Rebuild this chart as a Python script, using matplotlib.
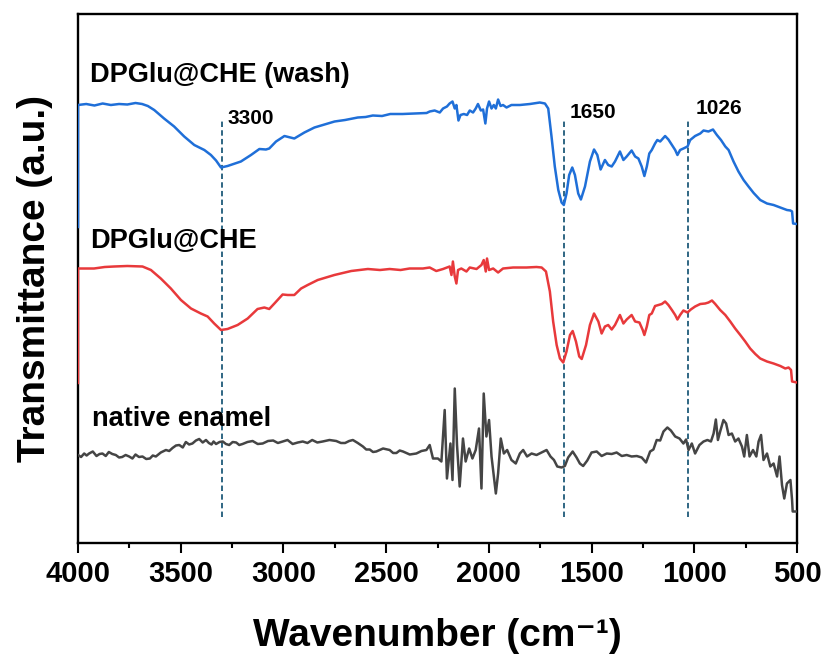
import matplotlib
matplotlib.use("Agg")
import matplotlib.pyplot as plt

plt.rcParams['font.family'] = ['Liberation Sans', 'DejaVu Sans']

# ---- data (wavenumber in cm-1, transmittance in a.u.) ----
wash_wn = [4000, 4000, 3960, 3920, 3880, 3840, 3800, 3760, 3720, 3688, 3660, 3629, 3581, 3532,
           3483, 3434, 3385, 3353, 3328, 3304, 3272, 3207, 3158, 3117, 3085, 3069, 3036, 2995,
           2947, 2898, 2849, 2800, 2751, 2700, 2638, 2600, 2565, 2520, 2480, 2420, 2360, 2303,
           2288, 2264, 2239, 2223, 2204, 2191, 2177, 2166, 2158, 2148, 2138, 2122, 2106, 2093,
           2077, 2064, 2053, 2039, 2028, 2017, 2009, 1999, 1987, 1976, 1966, 1955, 1943, 1931,
           1914, 1890, 1849, 1800, 1752, 1727, 1711, 1695, 1679, 1662, 1646, 1635, 1622, 1609,
           1594, 1581, 1565, 1552, 1532, 1508, 1488, 1472, 1456, 1435, 1419, 1402, 1386, 1362,
           1345, 1329, 1305, 1288, 1272, 1256, 1243, 1231, 1219, 1207, 1191, 1180, 1166, 1142,
           1126, 1109, 1093, 1082, 1069, 1053, 1033, 1020, 996, 971, 955, 931, 909, 890, 870,
           849, 833, 809, 785, 760, 736, 711, 679, 646, 614, 581, 549, 532, 524, 519, 500]
wash_t = [63.2, 87.6, 87.8, 87.5, 87.9, 87.6, 87.8, 87.7, 88.0, 87.8, 87.4, 86.6, 84.9, 83.3,
          81.3, 79.6, 78.6, 77.6, 76.5, 75.1, 75.4, 76.3, 77.6, 78.8, 78.7, 78.9, 80.3, 81.4,
          80.9, 82.1, 83.1, 83.7, 84.3, 84.6, 85.1, 85.2, 85.5, 85.4, 85.8, 85.8, 85.9, 86.0,
          86.3, 86.5, 86.1, 86.9, 87.3, 87.9, 88.3, 86.9, 87.6, 84.5, 85.6, 85.8, 85.6, 86.5,
          86.1, 86.9, 87.8, 86.5, 86.7, 83.9, 86.9, 88.3, 86.9, 87.6, 86.9, 88.7, 87.4, 87.6,
          87.1, 87.6, 87.6, 87.8, 88.1, 87.9, 86.9, 81.3, 75.3, 70.6, 68.1, 67.6, 69.9, 73.6,
          75.1, 73.6, 69.9, 68.7, 71.3, 76.3, 78.7, 77.6, 74.7, 76.6, 75.6, 75.3, 76.3, 78.3,
          76.6, 77.3, 78.5, 77.3, 76.9, 75.3, 73.4, 75.3, 77.9, 78.6, 79.9, 80.6, 80.3, 81.4,
          80.7, 79.6, 78.6, 77.6, 78.6, 78.9, 79.3, 80.6, 81.4, 81.9, 82.5, 82.3, 82.7, 81.6, 80.6,
          79.3, 78.6, 76.3, 74.3, 72.6, 71.3, 70.0, 68.6, 67.9, 67.6, 67.1, 66.6, 66.5, 66.3, 63.9, 63.8]

che_wn = [4000, 4000, 3922, 3870, 3824, 3760, 3686, 3645, 3597, 3548, 3499, 3450, 3402, 3369,
          3337, 3304, 3272, 3223, 3174, 3126, 3093, 3069, 3044, 3004, 2979, 2947, 2914, 2882,
          2833, 2752, 2670, 2589, 2530, 2483, 2430, 2386, 2321, 2288, 2256, 2223, 2191, 2182,
          2175, 2166, 2158, 2150, 2134, 2109, 2093, 2060, 2036, 2025, 2015, 2009, 1999, 1979,
          1955, 1931, 1882, 1817, 1768, 1743, 1722, 1703, 1687, 1670, 1654, 1638, 1622, 1605,
          1592, 1576, 1560, 1548, 1527, 1508, 1488, 1467, 1451, 1435, 1419, 1402, 1386, 1362,
          1345, 1329, 1305, 1288, 1267, 1251, 1243, 1231, 1219, 1207, 1191, 1175, 1158, 1142,
          1126, 1109, 1093, 1082, 1069, 1053, 1033, 1017, 996, 971, 947, 931, 914, 898, 874,
          849, 825, 801, 776, 752, 728, 703, 679, 646, 614, 581, 557, 541, 529, 524, 500]
che_t = [32.0, 54.9, 54.9, 55.2, 55.3, 55.4, 55.3, 54.6, 52.9, 50.9, 48.6, 46.9, 45.9, 45.3,
         43.9, 42.6, 42.8, 43.6, 44.9, 46.8, 47.1, 46.8, 47.9, 49.7, 49.6, 49.6, 50.9, 51.6,
         52.6, 53.6, 54.4, 54.8, 54.6, 54.8, 54.6, 54.9, 54.9, 55.1, 54.4, 54.8, 55.3, 53.6,
         56.3, 53.3, 51.9, 54.6, 54.9, 54.3, 55.1, 54.8, 55.6, 56.6, 54.3, 56.9, 54.6, 54.9,
         54.1, 54.9, 55.1, 55.1, 55.2, 55.1, 54.3, 50.3, 44.3, 39.6, 36.9, 36.1, 38.3, 41.6,
         42.4, 40.3, 37.3, 36.8, 39.6, 43.6, 45.9, 44.3, 41.9, 43.3, 43.6, 42.7, 43.6, 45.6,
         43.9, 44.7, 45.6, 44.3, 44.1, 42.6, 41.6, 43.3, 45.6, 45.9, 47.4, 47.6, 47.8, 48.3,
         47.6, 46.6, 45.6, 44.7, 45.6, 46.5, 46.1, 46.7, 47.3, 47.8, 47.9, 48.1, 48.5, 47.8, 46.6,
         45.6, 44.3, 42.9, 41.6, 40.3, 38.9, 37.8, 36.9, 36.3, 35.9, 35.4, 34.9, 35.1, 34.6, 32.3, 32.1]

enamel_wn = [4000, 3985, 3970, 3958, 3946, 3928, 3910, 3895, 3881, 3865, 3850, 3833, 3816, 3800,
             3785, 3768, 3751, 3735, 3720, 3703, 3686, 3668, 3650, 3636, 3621, 3597, 3572, 3556,
             3540, 3523, 3507, 3490, 3475, 3459, 3443, 3426, 3410, 3393, 3377, 3363, 3350, 3340,
             3328, 3311, 3295, 3280, 3264, 3247, 3230, 3215, 3199, 3175, 3150, 3125, 3101, 3075,
             3050, 3027, 3004, 2980, 2955, 2930, 2906, 2883, 2860, 2835, 2809, 2776, 2743, 2720,
             2700, 2680, 2662, 2638, 2613, 2597, 2580, 2564, 2548, 2515, 2483, 2466, 2450, 2434,
             2418, 2385, 2353, 2328, 2304, 2288, 2272, 2248, 2231, 2215, 2204, 2187, 2177, 2166,
             2155, 2142, 2126, 2113, 2096, 2080, 2064, 2048, 2036, 2025, 2012, 1999, 1987, 1966,
             1955, 1942, 1927, 1911, 1890, 1869, 1849, 1833, 1814, 1792, 1768, 1743, 1719, 1700,
             1683, 1667, 1646, 1630, 1614, 1592, 1573, 1557, 1541, 1521, 1500, 1475, 1451, 1426,
             1402, 1378, 1353, 1329, 1305, 1280, 1256, 1235, 1215, 1199, 1183, 1166, 1150, 1131,
             1114, 1093, 1072, 1053, 1040, 1028, 1012, 996, 975, 955, 936, 919, 906, 895, 885, 874,
             858, 845, 833, 817, 801, 785, 768, 757, 744, 731, 714, 698, 687, 675, 663, 646, 630,
             614, 597, 585, 573, 562, 549, 532, 524, 521, 500]
enamel_t = [17.6, 17.2, 17.9, 17.5, 17.9, 18.3, 17.4, 17.8, 17.9, 17.4, 18.2, 17.8, 17.6, 17.1,
            17.2, 17.6, 17.3, 16.9, 17.7, 17.2, 17.3, 16.8, 16.9, 17.5, 17.3, 18.1, 18.6, 18.4,
            19.0, 19.5, 19.6, 19.1, 20.2, 19.7, 19.9, 20.5, 20.8, 20.1, 20.6, 20.0, 19.7, 20.3,
            19.8, 20.2, 20.3, 19.8, 19.6, 20.2, 20.1, 19.6, 19.8, 20.2, 20.4, 19.8, 19.9, 20.4,
            20.5, 20.0, 20.3, 20.6, 19.8, 20.1, 20.3, 20.0, 20.6, 20.1, 20.3, 20.6, 20.4, 20.0,
            20.0, 20.4, 20.6, 20.0, 19.3, 18.7, 18.7, 18.2, 18.3, 18.9, 18.6, 18.0, 18.0, 18.5,
            18.3, 17.7, 17.9, 18.4, 18.6, 19.6, 16.9, 16.9, 16.3, 26.6, 12.9, 19.9, 12.6, 30.9,
            19.6, 11.3, 20.9, 16.3, 18.9, 16.9, 18.6, 22.9, 10.9, 29.9, 21.3, 24.6, 17.3, 9.9,
            13.9, 20.9, 17.9, 18.6, 16.6, 15.9, 17.9, 18.6, 17.3, 17.9, 17.6, 18.1, 18.6, 17.3,
            16.6, 15.3, 15.1, 15.4, 17.1, 18.3, 17.1, 15.9, 15.4, 16.5, 18.1, 18.3, 17.4, 17.9,
            17.8, 18.1, 17.4, 17.6, 17.3, 17.4, 17.1, 16.1, 18.3, 18.7, 20.6, 20.5, 22.3, 23.1,
            22.5, 21.3, 20.9, 19.9, 20.7, 18.6, 19.9, 17.9, 19.6, 20.3, 20.6, 20.3, 21.9, 24.7, 20.6, 22.3,
            24.6, 23.9, 21.6, 21.9, 20.3, 20.9, 19.3, 17.3, 21.6, 17.3, 18.6, 17.3, 20.3, 21.6, 16.6, 17.9, 15.3,
            15.9, 13.3, 17.3, 11.6, 8.9, 11.9, 12.6, 8.6, 6.3, 6.3]

series_labels = ["DPGlu@CHE (wash)", "DPGlu@CHE", "native enamel"]
peak_positions = [3300, 1635, 1030]
peak_labels = ["3300", "1650", "1026"]
x_ticks = [4000, 3500, 3000, 2500, 2000, 1500, 1000, 500]

# ---- figure ----
fig = plt.figure(figsize=(8.24, 6.55), dpi=100)
ax = fig.add_axes([78/824, 1 - 543/655, (797 - 78)/824, (543 - 14)/655])

ax.plot(wash_wn, wash_t, color="#1f6fd8", lw=1.8, zorder=3)
ax.plot(che_wn, che_t, color="#e8393b", lw=1.8, zorder=3)
ax.plot(enamel_wn, enamel_t, color="#454545", lw=1.8, zorder=3)

for p in peak_positions:
    ax.plot([p, p], [5.3, 84.8], color="#1f5a7a", lw=1.3, dashes=(3, 1.8), zorder=2)

ax.text(3273, 83.8, peak_labels[0], fontsize=15, fontweight="bold", ha="left", va="baseline")
ax.text(1609, 84.9, peak_labels[1], fontsize=15, fontweight="bold", ha="left", va="baseline")
ax.text(994, 85.8, peak_labels[2], fontsize=15, fontweight="bold", ha="left", va="baseline")

ax.text(3941, 92.3, series_labels[0], fontsize=19.5, fontweight="bold", ha="left", va="baseline")
ax.text(3941, 58.9, series_labels[1], fontsize=19.5, fontweight="bold", ha="left", va="baseline")
ax.text(3932, 23.5, series_labels[2], fontsize=19.5, fontweight="bold", ha="left", va="baseline")

ax.set_xlim(4000, 500)
ax.set_ylim(0, 105.8)
ax.set_xticks(x_ticks)
ax.set_xticks([3750, 3250, 2750, 2250, 1750, 1250, 750], minor=True)
ax.set_yticks([])
ax.tick_params(axis="x", which="major", direction="out", length=7.2, width=1.5,
               labelsize=21, pad=5)
ax.tick_params(axis="x", which="minor", direction="out", length=3.6, width=1.5)
for lab in ax.get_xticklabels():
    lab.set_fontweight("bold")
for s in ax.spines.values():
    s.set_linewidth(1.7)

ax.set_xlabel("Wavenumber (cm\u207b\u00b9)", fontsize=28, fontweight="bold", labelpad=22)
ax.set_ylabel("Transmittance (a.u.)", fontsize=28, fontweight="bold")
ax.yaxis.set_label_coords(-0.035, 0.5)

fig.savefig("out.png", dpi=100)
